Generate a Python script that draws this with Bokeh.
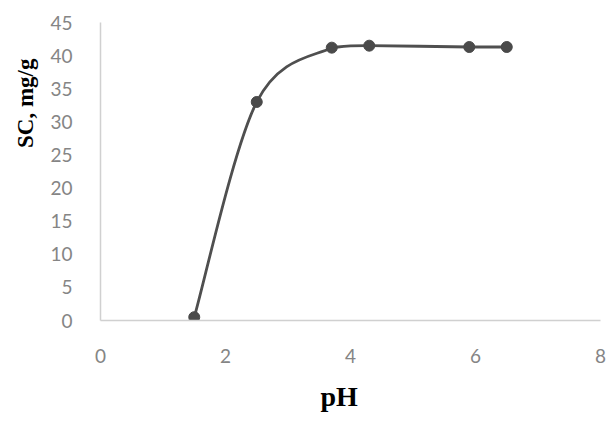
from bokeh.plotting import figure
from bokeh.models import Range1d, FixedTicker, Title
from bokeh.embed import file_html
from bokeh.resources import INLINE

ph = [1.5, 2.5, 3.7, 4.3, 5.9, 6.5]
sc = [0.5, 33.0, 41.2, 41.5, 41.3, 41.3]
x_ticks = [0, 2, 4, 6, 8]
y_ticks = [0, 5, 10, 15, 20, 25, 30, 35, 40, 45]

p = figure(width=607, height=425, output_backend="svg", toolbar_location=None,
           x_range=Range1d(0, 8), y_range=Range1d(0, 45),
           min_border_left=100, min_border_right=7, min_border_top=22, min_border_bottom=105)
p.outline_line_color = None
p.grid.visible = False
p.background_fill_color = "white"
p.border_fill_color = "white"

# smoothed line (bezier through data points, control points clamped to avoid overshoot)
n = len(ph)
x0s, y0s, x1s, y1s, cx0, cy0, cx1, cy1 = [], [], [], [], [], [], [], []
for i in range(n - 1):
    pm = max(i - 1, 0)
    pn = min(i + 2, n - 1)
    lo, hi = min(sc[i], sc[i + 1]), max(sc[i], sc[i + 1])
    x0s.append(ph[i]); y0s.append(sc[i])
    x1s.append(ph[i + 1]); y1s.append(sc[i + 1])
    cx0.append(ph[i] + (ph[i + 1] - ph[pm]) / 6)
    cy0.append(min(max(sc[i] + (sc[i + 1] - sc[pm]) / 6, lo), hi))
    cx1.append(ph[i + 1] - (ph[pn] - ph[i]) / 6)
    cy1.append(min(max(sc[i + 1] - (sc[pn] - sc[i]) / 6, lo), hi))
p.bezier(x0=x0s, y0=y0s, x1=x1s, y1=y1s, cx0=cx0, cy0=cy0, cx1=cx1, cy1=cy1,
         line_color="#4f4f4f", line_width=2.8)
p.scatter(ph, sc, size=11, fill_color="#4a4a4a", line_color="#4a4a4a", marker="circle")

for ax in (p.xaxis, p.yaxis):
    ax.axis_line_color = "#d0d0d0"
    ax.axis_line_width = 1.5
    ax.major_tick_line_color = None
    ax.minor_tick_line_color = None
    ax.major_label_text_color = "#858585"
    ax.major_label_text_font = "Lato"
    ax.major_label_text_font_size = "19px"
p.xaxis.major_label_standoff = 22
p.yaxis.major_label_standoff = 22
p.xaxis.ticker = FixedTicker(ticks=x_ticks)
p.yaxis.ticker = FixedTicker(ticks=y_ticks)

ylab = Title(text="SC, mg/g", align="right", offset=36, standoff=20,
             text_font="Liberation Serif", text_font_style="bold",
             text_font_size="23px", text_color="#000000")
xlab = Title(text="pH", align="left", offset=220, standoff=27,
             text_font="Liberation Serif", text_font_style="bold",
             text_font_size="28px", text_color="#000000", text_line_height=0.5)
p.add_layout(ylab, "left")
p.add_layout(xlab, "below")

open("out.html", "w").write(file_html(p, INLINE))
